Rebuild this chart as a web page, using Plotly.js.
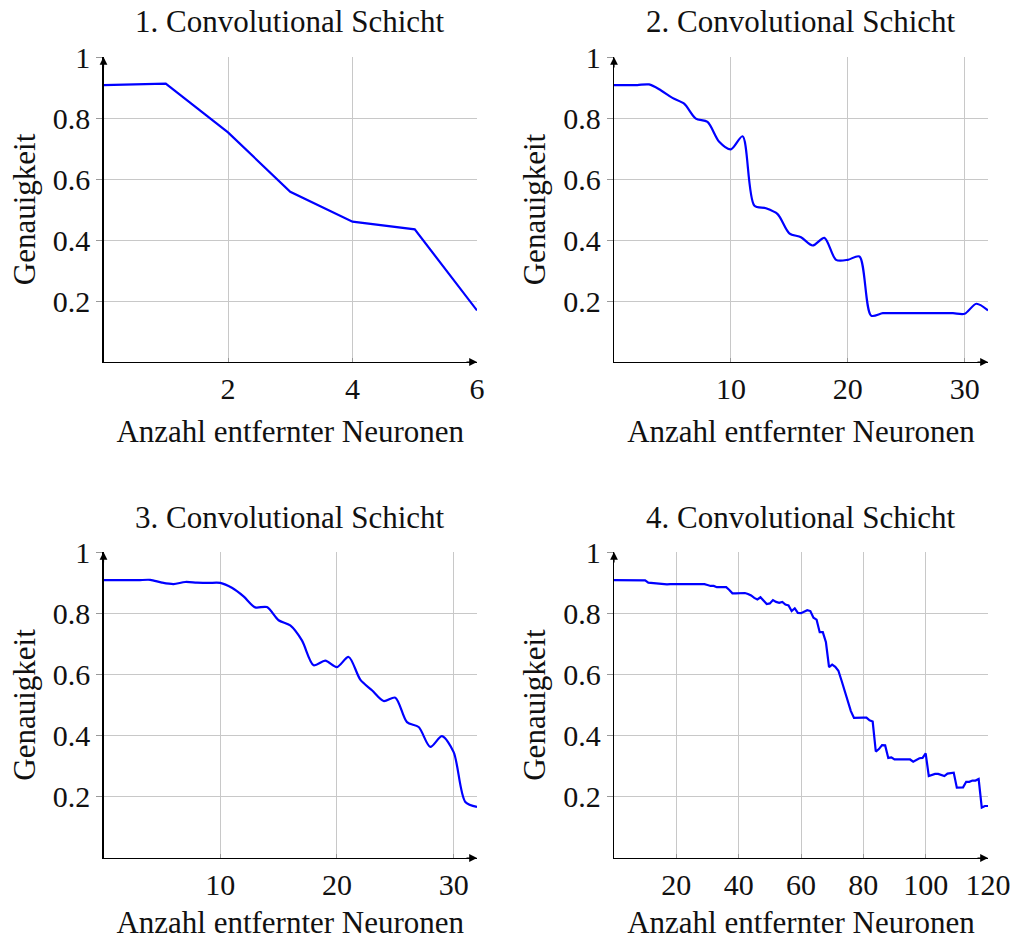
<!DOCTYPE html>
<html>
<head>
<meta charset="utf-8">
<script src="https://cdn.plot.ly/plotly-3.0.1.min.js"></script>
<style>html,body{margin:0;padding:0;background:#fff}#chart{width:1010px;height:940px}</style>
</head>
<body>
<div id="chart"></div>
<script>
// ---- data ----
const titles = ["1. Convolutional Schicht", "2. Convolutional Schicht", "3. Convolutional Schicht", "4. Convolutional Schicht"];
const xLabel = "Anzahl entfernter Neuronen";
const yLabel = "Genauigkeit";

const x1 = [0, 1, 2, 3, 4, 5, 6];
const y1 = [0.908, 0.913, 0.753, 0.558, 0.460, 0.435, 0.169];

const x2 = [0,1,2,3,4,5,6,7,8,9,10,11,12,13,14,15,16,17,18,19,20,21,22,23,24,25,26,27,28,29,30,31,32];
const y2 = [0.908,0.908,0.908,0.910,0.891,0.866,0.847,0.798,0.787,0.722,0.697,0.740,0.513,0.504,0.485,0.422,
            0.409,0.382,0.407,0.335,0.335,0.346,0.152,0.160,0.160,0.160,0.160,0.160,0.160,0.160,0.158,0.191,0.169];

const x3 = [0,1,2,3,4,5,6,7,8,9,10,11,12,13,14,15,16,17,18,19,20,21,22,23,24,25,26,27,28,29,30,31,32];
const y3 = [0.908,0.908,0.908,0.908,0.909,0.900,0.895,0.902,0.900,0.899,0.899,0.883,0.855,0.819,0.820,0.777,
            0.760,0.711,0.630,0.645,0.624,0.657,0.583,0.548,0.513,0.524,0.444,0.428,0.363,0.398,0.346,0.183,0.167];

const x4 = [];
for (let i = 0; i <= 120; i++) x4.push(i);
const y4 = [0.908,0.908,0.908,0.908,0.908,0.908,0.908,0.908,0.908,0.908,
            0.907,0.900,0.899,0.898,0.897,0.896,0.894,0.894,0.895,0.895,
            0.895,0.895,0.895,0.895,0.895,0.894,0.894,0.894,0.895,0.895,
            0.892,0.889,0.889,0.885,0.885,0.885,0.885,0.876,0.865,0.865,
            0.866,0.866,0.866,0.863,0.858,0.850,0.845,0.852,0.840,0.830,
            0.832,0.843,0.837,0.834,0.837,0.828,0.825,0.807,0.816,0.801,
            0.800,0.804,0.810,0.807,0.785,0.779,0.738,0.738,0.705,0.624,
            0.632,0.625,0.612,0.580,0.548,0.510,0.480,0.458,0.459,0.459,
            0.459,0.459,0.450,0.446,0.348,0.356,0.369,0.368,0.327,0.329,
            0.322,0.322,0.322,0.322,0.322,0.322,0.315,0.321,0.326,0.327,
            0.342,0.268,0.272,0.275,0.275,0.272,0.268,0.276,0.277,0.279,
            0.230,0.231,0.231,0.249,0.249,0.253,0.253,0.258,0.165,0.170,0.170];

const xRanges = [[0, 6], [0, 32], [0, 32], [0, 120]];
const xTicks = [[2, 4, 6], [10, 20, 30], [10, 20, 30], [20, 40, 60, 80, 100, 120]];
const yTicks = [0.2, 0.4, 0.6, 0.8, 1];
const yTickText = ["0.2", "0.4", "0.6", "0.8", "1"];

// ---- layout ----
const W = 1010, H = 940;
const FONT = "'Liberation Serif', 'Times New Roman', serif";
const xDom = [[103.5 / W, 477 / W], [614 / W, 988 / W], [103.5 / W, 477 / W], [614 / W, 988 / W]];
const yDom = [[1 - 362 / H, 1 - 57 / H], [1 - 362 / H, 1 - 57 / H], [1 - 858 / H, 1 - 552 / H], [1 - 858 / H, 1 - 552 / H]];
const titleY = [1 - 22 / H, 1 - 22 / H, 1 - 517 / H, 1 - 517 / H];

const xs = [x1, x2, x3, x4];
const ys = [y1, y2, y3, y4];
const shapes = ['linear', 'spline', 'spline', 'linear'];

const data = [];
const layout = {
  width: W, height: H,
  margin: {l: 0, r: 0, t: 0, b: 0},
  paper_bgcolor: '#fff', plot_bgcolor: '#fff',
  showlegend: false,
  font: {family: FONT, size: 30, color: '#111'},
  annotations: []
};

for (let i = 0; i < 4; i++) {
  const n = i === 0 ? '' : String(i + 1);
  data.push({
    x: xs[i], y: ys[i], type: 'scatter', mode: 'lines',
    xaxis: 'x' + n, yaxis: 'y' + n,
    line: {color: '#0000ff', width: 2.2, shape: shapes[i], smoothing: 0.8}
  });
  layout['xaxis' + n] = {
    domain: xDom[i], anchor: 'y' + n, range: xRanges[i],
    tickmode: 'array', tickvals: xTicks[i],
    showgrid: true, gridcolor: '#c8c8c8', gridwidth: 1, zeroline: false,
    showline: true, linecolor: '#000', linewidth: 1.2,
    ticks: 'inside', ticklen: 4, tickcolor: '#999',
    ticklabeloverflow: 'allow',
    tickfont: {family: FONT, size: 30, color: '#111'},
    title: {text: xLabel, font: {family: FONT, size: 31, color: '#111'}, standoff: 16},
    fixedrange: true
  };
  layout['yaxis' + n] = {
    domain: yDom[i], anchor: 'x' + n, range: [0, 1],
    tickmode: 'array', tickvals: yTicks, ticktext: yTickText,
    showgrid: true, gridcolor: '#c8c8c8', gridwidth: 1, zeroline: false,
    showline: true, linecolor: '#000', linewidth: 1.2,
    ticks: 'outside', ticklen: 6, tickcolor: '#999',
    tickfont: {family: FONT, size: 30, color: '#111'},
    title: {text: yLabel, font: {family: FONT, size: 31, color: '#111'}, standoff: 8},
    fixedrange: true
  };
  layout.annotations.push({
    text: titles[i], xref: 'paper', yref: 'paper',
    x: (xDom[i][0] + xDom[i][1]) / 2, y: titleY[i],
    xanchor: 'center', yanchor: 'middle', showarrow: false,
    font: {family: FONT, size: 31, color: '#111'}
  });
  // axis arrow heads
  layout.annotations.push({
    text: '', xref: 'x' + n, yref: 'y' + n, x: xRanges[i][1], y: 0,
    ax: -12, ay: 0, showarrow: true, arrowhead: 2, arrowsize: 1.3, arrowwidth: 1.2, arrowcolor: '#000'
  });
  layout.annotations.push({
    text: '', xref: 'x' + n, yref: 'y' + n, x: 0, y: 1,
    ax: 0, ay: 12, showarrow: true, arrowhead: 2, arrowsize: 1.3, arrowwidth: 1.2, arrowcolor: '#000'
  });
}

Plotly.newPlot('chart', data, layout, {staticPlot: true, displayModeBar: false});
</script>
</body>
</html>
